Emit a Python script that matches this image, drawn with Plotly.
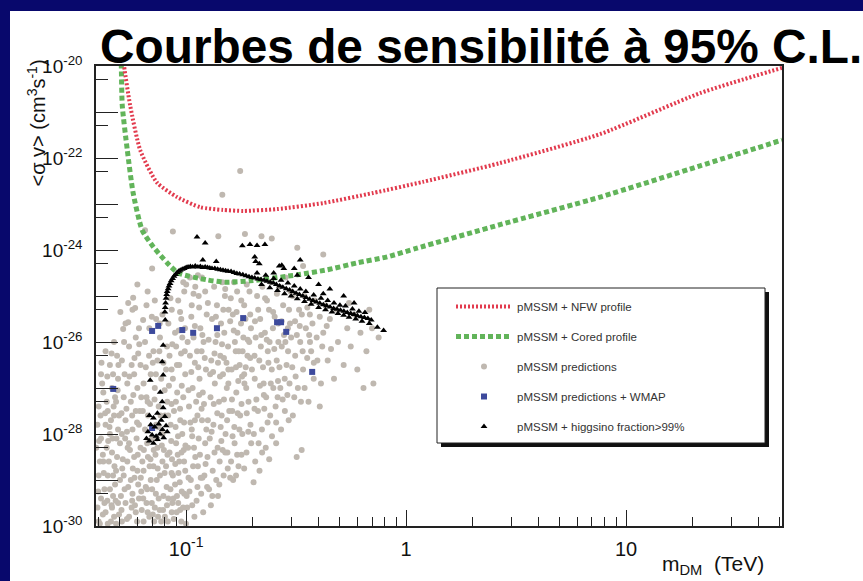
import plotly.graph_objects as go

# ---------------- sensitivity curves (mass in TeV, log10 <sigma v> in cm^3 s^-1)
nfw_mass = [0.0512, 0.0522, 0.0556, 0.0618, 0.0738, 0.0910, 0.116, 0.147, 0.182,
            0.259, 0.420, 0.708, 1.19, 2.67, 7.62, 21.7, 51.2]
nfw_logsv = [-19.6, -20.0, -20.85, -21.83, -22.54, -22.85, -23.07, -23.13, -23.15,
             -23.11, -22.98, -22.76, -22.52, -22.11, -21.48, -20.59, -20.04]

cored_mass = [0.0503, 0.0507, 0.0512, 0.0540, 0.0574, 0.0631, 0.0708, 0.082, 0.092,
              0.1245, 0.150, 0.195, 0.320, 0.438, 0.599, 0.82, 1.12, 2.67, 7.62, 21.7, 51.2]
cored_logsv = [-19.6, -20.0, -20.85, -21.83, -22.76, -23.57, -23.93, -24.28, -24.50,
               -24.65, -24.70, -24.67, -24.54, -24.43, -24.28, -24.15, -23.96, -23.45,
               -22.85, -22.17, -21.61]

# ---------------- pMSSM scan points, grouped by mass band: (mass TeV, log10 <sigma v>)
pred_band1 = [(0.040, -29.9), (0.041, -29.4), (0.043, -29.7), (0.045, -29.2), (0.047, -29.8), (0.049, -29.5),
              (0.040, -28.9), (0.042, -28.6), (0.044, -28.9), (0.046, -28.4), (0.048, -28.8), (0.050, -28.2),
              (0.041, -28.1), (0.043, -27.8), (0.045, -28.0), (0.047, -27.6), (0.049, -27.9), (0.040, -27.4),
              (0.042, -27.1), (0.044, -27.5), (0.046, -27.0), (0.048, -27.3), (0.041, -26.7), (0.045, -26.5),
              (0.049, -26.8), (0.043, -26.2), (0.047, -26.0), (0.044, -29.95), (0.048, -29.95), (0.050, -29.0),
              (0.046, -29.6), (0.039, -28.3), (0.0395, -29.6), (0.0425, -29.2), (0.0435, -28.3), (0.0455, -29.9),
              (0.0475, -29.1), (0.0495, -29.75), (0.0405, -28.6), (0.0445, -28.6), (0.0465, -28.9), (0.0485, -28.5),
              (0.0395, -27.8), (0.0435, -27.3), (0.0455, -27.7), (0.0475, -27.2), (0.0495, -27.6), (0.0415, -26.9),
              (0.0465, -26.7), (0.0485, -26.3)]
pred_band2 = [(0.051, -29.9), (0.053, -29.5), (0.055, -29.8), (0.057, -29.3), (0.059, -29.7), (0.061, -29.4),
              (0.052, -28.9), (0.054, -28.6), (0.056, -29.0), (0.058, -28.5), (0.060, -28.8), (0.062, -28.3),
              (0.051, -28.0), (0.053, -27.7), (0.055, -28.2), (0.057, -27.9), (0.059, -27.5), (0.061, -27.8),
              (0.052, -27.2), (0.054, -26.9), (0.056, -27.3), (0.058, -26.7), (0.060, -27.0), (0.062, -26.5),
              (0.051, -26.4), (0.055, -26.1), (0.059, -25.9), (0.053, -25.6), (0.057, -25.3), (0.061, -25.7),
              (0.0574, -25.04), (0.0586, -25.26), (0.0545, -25.57), (0.0517, -25.72), (0.0637, -25.52),
              (0.060, -24.75), (0.0525, -29.2), (0.0565, -29.6), (0.0605, -29.1), (0.0515, -28.55),
              (0.0555, -28.35), (0.0595, -28.1), (0.0535, -27.45), (0.0575, -27.15), (0.0615, -27.5),
              (0.0525, -26.7), (0.0565, -26.5), (0.0605, -26.25)]
pred_band3 = [(0.064, -29.9), (0.066, -29.5), (0.068, -29.8), (0.070, -29.2), (0.072, -29.6), (0.075, -29.4),
              (0.077, -29.9), (0.064, -28.8), (0.067, -28.5), (0.069, -29.0), (0.071, -28.7), (0.074, -28.3),
              (0.076, -28.9), (0.078, -28.6), (0.065, -27.9), (0.067, -27.6), (0.070, -28.1), (0.073, -27.8),
              (0.075, -27.4), (0.078, -28.0), (0.064, -26.9), (0.066, -27.2), (0.069, -26.7), (0.072, -27.0),
              (0.074, -26.4), (0.077, -26.8), (0.065, -26.0), (0.068, -25.7), (0.071, -26.2), (0.073, -25.5),
              (0.076, -25.9), (0.066, -25.2), (0.070, -24.4), (0.065, -23.57), (0.072, -25.1), (0.078, -25.4),
              (0.0655, -29.15), (0.0715, -29.9), (0.0735, -29.0), (0.0665, -28.2), (0.0725, -28.45),
              (0.0775, -28.25), (0.0635, -27.5), (0.0685, -27.35), (0.0765, -27.6), (0.0655, -26.55),
              (0.0705, -26.45), (0.0755, -26.2)]
pred_band4 = [(0.080, -29.8), (0.083, -29.4), (0.086, -29.7), (0.089, -29.1), (0.092, -29.5), (0.095, -29.9),
              (0.098, -29.3), (0.081, -28.7), (0.084, -28.4), (0.087, -28.9), (0.090, -28.2), (0.093, -28.6),
              (0.096, -28.0), (0.099, -28.8), (0.080, -27.6), (0.082, -27.3), (0.085, -27.8), (0.088, -27.5),
              (0.091, -27.1), (0.094, -27.7), (0.097, -27.2), (0.081, -26.6), (0.084, -26.3), (0.087, -26.8),
              (0.090, -26.1), (0.093, -26.5), (0.096, -25.9), (0.099, -26.7), (0.083, -25.6), (0.086, -25.3),
              (0.089, -25.8), (0.092, -25.1), (0.095, -25.5), (0.098, -24.9), (0.087, -23.6), (0.097, -24.7),
              (0.0815, -29.15), (0.0875, -29.4), (0.0935, -29.05), (0.0855, -28.15), (0.0915, -28.45),
              (0.0975, -28.35), (0.0835, -26.95), (0.0895, -27.85), (0.0955, -26.95), (0.0865, -26.05),
              (0.0925, -25.75), (0.0985, -26.2)]
pred_band5 = [(0.101, -29.6), (0.105, -29.0), (0.109, -29.8), (0.113, -28.7), (0.117, -29.3), (0.121, -28.9),
              (0.125, -28.5), (0.102, -28.3), (0.106, -27.9), (0.110, -28.5), (0.114, -28.1), (0.118, -27.7),
              (0.122, -28.2), (0.103, -27.4), (0.107, -27.0), (0.111, -27.3), (0.115, -26.8), (0.119, -27.1),
              (0.123, -26.6), (0.104, -26.3), (0.108, -25.9), (0.112, -26.2), (0.116, -25.7), (0.120, -26.0),
              (0.124, -25.4), (0.106, -25.2), (0.110, -24.8), (0.114, -25.0), (0.118, -24.6), (0.122, -24.9),
              (0.100, -24.75), (0.104, -24.6), (0.108, -24.95), (0.113, -24.55), (0.1035, -29.25),
              (0.1115, -29.45), (0.1195, -29.7), (0.1075, -28.7), (0.1155, -28.45), (0.1235, -27.9),
              (0.1045, -27.75), (0.1125, -27.6), (0.1205, -27.35), (0.1055, -26.65), (0.1135, -26.55),
              (0.1215, -26.35)]
pred_band6 = [(0.127, -29.2), (0.132, -28.8), (0.137, -29.0), (0.142, -28.6), (0.148, -28.9), (0.154, -28.4),
              (0.128, -28.1), (0.133, -27.8), (0.139, -28.3), (0.145, -27.6), (0.151, -28.0), (0.157, -27.5),
              (0.129, -27.2), (0.135, -26.9), (0.141, -27.3), (0.147, -26.7), (0.153, -27.0), (0.130, -26.4),
              (0.136, -26.0), (0.143, -26.3), (0.149, -25.8), (0.155, -26.1), (0.131, -25.5), (0.138, -25.2),
              (0.144, -25.6), (0.150, -25.0), (0.156, -25.3), (0.134, -24.8), (0.146, -24.7), (0.146, -22.8),
              (0.140, -23.7), (0.1295, -29.55), (0.1395, -29.35), (0.1345, -28.4), (0.1445, -28.15),
              (0.1545, -28.75), (0.1385, -27.55), (0.1485, -27.25), (0.1325, -26.65), (0.1425, -26.75),
              (0.1525, -26.45)]
pred_band7 = [(0.160, -28.6), (0.166, -28.2), (0.173, -28.7), (0.180, -28.0), (0.188, -28.4), (0.196, -27.8),
              (0.162, -27.5), (0.169, -27.1), (0.176, -27.6), (0.184, -26.9), (0.192, -27.3), (0.199, -26.6),
              (0.161, -26.6), (0.168, -26.2), (0.175, -26.5), (0.182, -25.9), (0.190, -26.3), (0.197, -25.7),
              (0.163, -25.4), (0.171, -25.8), (0.178, -25.1), (0.186, -25.5), (0.194, -24.9), (0.165, -24.7),
              (0.176, -22.28), (0.185, -23.65), (0.1635, -29.0), (0.1705, -28.45), (0.1835, -28.75),
              (0.1655, -27.85), (0.1785, -27.35), (0.1915, -27.95), (0.1725, -26.85), (0.1865, -26.55),
              (0.1665, -26.0), (0.1805, -26.2)]
pred_band8 = [(0.203, -28.0), (0.212, -27.5), (0.221, -27.9), (0.231, -27.2), (0.241, -27.6), (0.249, -27.0),
              (0.205, -26.8), (0.215, -26.4), (0.225, -26.9), (0.235, -26.2), (0.245, -26.6), (0.207, -25.9),
              (0.217, -25.5), (0.228, -25.8), (0.238, -25.3), (0.248, -25.7), (0.210, -25.0), (0.222, -24.8),
              (0.233, -25.1), (0.243, -24.7), (0.206, -28.6), (0.230, -28.3), (0.220, -23.7), (0.245, -23.75),
              (0.2085, -27.25), (0.2265, -27.45), (0.2185, -26.1), (0.2395, -26.0), (0.2135, -28.2)]
pred_band9 = [(0.255, -27.4), (0.268, -27.0), (0.281, -27.5), (0.295, -26.9), (0.310, -27.2), (0.258, -26.4),
              (0.272, -26.1), (0.286, -26.5), (0.300, -25.9), (0.313, -26.3), (0.262, -25.6), (0.276, -25.2),
              (0.290, -25.7), (0.305, -25.0), (0.265, -24.8), (0.283, -24.6), (0.298, -24.9), (0.270, -27.9),
              (0.2615, -26.85), (0.2905, -26.2), (0.2785, -25.85)]
pred_band10 = [(0.322, -27.0), (0.340, -26.6), (0.360, -27.3), (0.380, -26.8), (0.330, -26.0), (0.350, -25.7),
               (0.370, -26.2), (0.392, -25.9), (0.326, -25.3), (0.345, -25.0), (0.365, -25.4), (0.385, -25.1),
               (0.335, -28.35), (0.318, -28.5), (0.320, -23.95), (0.340, -24.35), (0.355, -26.35)]
pred_band11 = [(0.41, -26.9), (0.44, -26.4), (0.47, -26.8), (0.42, -25.8), (0.45, -25.5), (0.49, -26.0),
               (0.43, -25.2), (0.48, -25.3), (0.42, -24.1), (0.405, -27.4)]
pred_band12 = [(0.52, -26.5), (0.56, -26.1), (0.60, -26.6), (0.54, -25.7), (0.58, -25.4), (0.62, -25.8),
               (0.55, -25.15)]
pred_band13 = [(0.66, -26.2), (0.70, -25.7), (0.75, -25.9), (0.68, -25.3), (0.64, -27.0), (0.71, -26.9)]

# further scan points filling the densely populated low-mass region
pred_fill_a = [(0.0398, -29.25), (0.0418, -29.75), (0.0438, -29.45), (0.0458, -29.55), (0.0478, -29.45),
               (0.0508, -29.65), (0.0538, -29.85), (0.0568, -29.45), (0.0598, -29.9), (0.0628, -29.65),
               (0.0402, -28.15), (0.0422, -28.85), (0.0442, -28.15), (0.0462, -28.1), (0.0482, -28.1),
               (0.0512, -28.75), (0.0542, -28.3), (0.0572, -28.75), (0.0602, -28.45), (0.0622, -28.95),
               (0.0408, -27.6), (0.0428, -27.55), (0.0448, -27.85), (0.0468, -27.4), (0.0488, -27.05),
               (0.0508, -27.55), (0.0538, -27.95), (0.0568, -27.6), (0.0598, -27.75), (0.0625, -27.2),
               (0.0412, -26.45), (0.0438, -26.75), (0.0458, -26.25), (0.0492, -26.5), (0.0522, -26.0),
               (0.0552, -26.75), (0.0582, -26.35), (0.0612, -26.05), (0.0502, -25.35), (0.0545, -25.15)]
pred_fill_b = [(0.0638, -29.4), (0.0668, -29.7), (0.0698, -29.5), (0.0728, -29.3), (0.0758, -29.65),
               (0.0788, -29.35), (0.0818, -29.55), (0.0848, -29.2), (0.0878, -29.85), (0.0908, -29.35),
               (0.0938, -29.65), (0.0968, -29.6), (0.0998, -29.95), (0.0642, -28.35), (0.0682, -28.7),
               (0.0712, -28.35), (0.0742, -28.75), (0.0792, -28.35), (0.0822, -28.45), (0.0862, -28.55),
               (0.0892, -28.65), (0.0922, -28.85), (0.0952, -28.4), (0.0992, -28.25), (0.0668, -27.3),
               (0.0718, -27.25), (0.0748, -27.85), (0.0798, -27.05), (0.0828, -27.6), (0.0858, -27.35),
               (0.0898, -27.3), (0.0938, -27.45), (0.0978, -27.75), (0.0678, -26.3), (0.0728, -26.7),
               (0.0788, -26.45), (0.0818, -26.1), (0.0858, -26.6), (0.0908, -26.5), (0.0948, -26.25),
               (0.0988, -25.7), (0.0698, -25.45), (0.0758, -25.6), (0.0848, -25.05), (0.0938, -25.35),
               (0.0668, -24.9)]
pred_fill_c = [(0.1025, -28.95), (0.1085, -28.3), (0.1165, -28.95), (0.1245, -29.15), (0.1315, -29.35),
               (0.1415, -29.1), (0.1505, -28.4), (0.1585, -28.95), (0.1685, -28.9), (0.1785, -28.45),
               (0.1025, -27.05), (0.1095, -27.7), (0.1175, -27.45), (0.1255, -27.7), (0.1335, -27.35),
               (0.1435, -27.85), (0.1535, -27.7), (0.1615, -27.25), (0.1745, -27.9), (0.1885, -27.55),
               (0.1975, -28.2), (0.1015, -26.0), (0.1095, -26.45), (0.1175, -26.2), (0.1265, -25.95),
               (0.1345, -26.25), (0.1455, -26.05), (0.1555, -26.6), (0.1645, -25.75), (0.1735, -26.2),
               (0.1835, -26.7), (0.1935, -26.0), (0.1055, -25.45), (0.1145, -25.25), (0.1255, -25.15),
               (0.1365, -25.45), (0.1475, -25.3), (0.1595, -25.05), (0.1695, -25.35), (0.1835, -25.2),
               (0.1955, -25.4), (0.1505, -24.85), (0.1705, -24.9), (0.1885, -24.75)]
pred_fill_d = [(0.2045, -27.45), (0.2165, -26.95), (0.2345, -27.75), (0.2455, -28.05), (0.2565, -27.75),
               (0.2745, -27.25), (0.2885, -27.15), (0.3055, -27.6), (0.3325, -27.3), (0.2045, -26.3),
               (0.2235, -26.55), (0.2325, -25.95), (0.2515, -26.15), (0.2655, -26.55), (0.2825, -26.0),
               (0.3035, -26.55), (0.3185, -25.85), (0.3385, -26.2), (0.3655, -26.0), (0.395, -26.4),
               (0.2125, -25.3), (0.2285, -25.05), (0.2485, -25.35), (0.2585, -24.95), (0.2715, -25.55),
               (0.2935, -25.3), (0.3125, -25.55), (0.3355, -25.4), (0.3555, -25.25), (0.375, -25.6),
               (0.405, -25.45)]
pred_fill_e = [(0.1065, -28.05), (0.1145, -27.15), (0.1225, -28.65), (0.1305, -27.95), (0.1395, -26.45),
               (0.1465, -28.35), (0.1555, -26.9), (0.1625, -28.05), (0.1715, -27.55), (0.1795, -26.75),
               (0.1875, -27.0), (0.1955, -26.35), (0.1095, -25.65), (0.1185, -25.85), (0.1285, -26.7),
               (0.1385, -25.85), (0.1485, -26.35), (0.1585, -25.55), (0.1685, -26.55), (0.1775, -25.6),
               (0.1905, -25.95), (0.2055, -25.55), (0.2195, -25.85), (0.2365, -26.45), (0.2525, -25.45),
               (0.2625, -26.0), (0.2805, -26.8), (0.2965, -25.6), (0.3145, -26.75), (0.3285, -25.65),
               (0.3455, -27.0), (0.3625, -25.85), (0.3805, -26.45), (0.4155, -26.1), (0.4355, -25.65),
               (0.4555, -26.15), (0.2255, -27.15), (0.2425, -26.9), (0.2605, -27.2), (0.2925, -27.7),
               (0.2215, -28.4), (0.2385, -28.55), (0.2565, -28.2), (0.2155, -28.8), (0.2025, -29.05)]
pred_fill_f = [(0.0405, -29.95), (0.0425, -29.5), (0.0465, -29.35), (0.0505, -29.35), (0.0545, -29.15),
               (0.0585, -29.55), (0.0625, -29.25), (0.0665, -29.2), (0.0705, -29.75), (0.0745, -29.8),
               (0.0785, -29.65), (0.0825, -29.9), (0.0865, -29.5), (0.0905, -29.7), (0.0955, -29.25),
               (0.1005, -29.35), (0.1065, -29.55), (0.1125, -29.15), (0.1185, -28.95), (0.0418, -28.45),
               (0.0472, -28.7), (0.0528, -28.1), (0.0582, -28.95), (0.0632, -28.6), (0.0688, -28.55),
               (0.0735, -28.1), (0.0798, -28.85), (0.0858, -28.85), (0.0918, -28.05), (0.0978, -28.6)]

# points passing the WMAP relic-density constraint
wmap_points = [(0.070, -25.76), (0.0746, -25.65), (0.096, -25.74), (0.1076, -25.80), (0.138, -25.70),
               (0.1816, -25.48), (0.259, -25.57), (0.270, -25.57), (0.285, -25.78), (0.374, -26.65),
               (0.0466, -27.02), (0.070, -27.87)]

# nearly pure higgsino models
higgsino_cluster = [(0.068, -27.6), (0.071, -27.65), (0.074, -27.55), (0.077, -27.7), (0.080, -27.62),
                    (0.069, -27.8), (0.072, -27.85), (0.075, -27.78), (0.078, -27.9), (0.081, -27.82),
                    (0.067, -27.95), (0.070, -28.02), (0.073, -28.05), (0.076, -28.0), (0.079, -28.08),
                    (0.068, -28.15), (0.071, -28.2), (0.074, -28.12), (0.082, -27.95), (0.066, -28.1)]
higgsino_column = [(0.0803, -25.52), (0.0786, -26.07), (0.0778, -26.43), (0.0786, -26.72), (0.0686, -26.83),
                   (0.0762, -27.09), (0.0778, -27.3), (0.0786, -27.43)]
higgsino_band = [(0.0800, -25.35), (0.0803, -25.25), (0.0806, -25.15), (0.0810, -25.05), (0.0815, -24.97),
                 (0.0820, -24.9), (0.0828, -24.84), (0.0835, -24.78), (0.0845, -24.73), (0.0855, -24.67),
                 (0.0868, -24.62), (0.0880, -24.57), (0.0895, -24.53), (0.0910, -24.49), (0.0925, -24.46),
                 (0.0940, -24.44), (0.0960, -24.42), (0.0980, -24.40), (0.1000, -24.38), (0.1020, -24.37),
                 (0.1045, -24.36), (0.107, -24.37), (0.110, -24.35), (0.113, -24.37), (0.116, -24.36),
                 (0.119, -24.38), (0.122, -24.37), (0.125, -24.38), (0.128, -24.39), (0.131, -24.40),
                 (0.135, -24.40), (0.139, -24.42), (0.143, -24.43), (0.147, -24.44), (0.151, -24.45),
                 (0.155, -24.46), (0.160, -24.47), (0.165, -24.49), (0.170, -24.51), (0.175, -24.52),
                 (0.181, -24.54), (0.187, -24.56), (0.193, -24.58), (0.199, -24.60), (0.205, -24.61),
                 (0.212, -24.63), (0.219, -24.64), (0.226, -24.66), (0.233, -24.68), (0.241, -24.70),
                 (0.249, -24.72), (0.257, -24.75), (0.266, -24.78), (0.275, -24.81), (0.285, -24.84),
                 (0.295, -24.87), (0.305, -24.90), (0.316, -24.94), (0.327, -24.97), (0.339, -25.00),
                 (0.351, -25.03), (0.364, -25.07), (0.377, -25.10), (0.391, -25.13), (0.405, -25.16),
                 (0.420, -25.19), (0.435, -25.21), (0.451, -25.24), (0.468, -25.27), (0.485, -25.29),
                 (0.503, -25.31), (0.521, -25.33), (0.540, -25.36), (0.560, -25.38), (0.580, -25.40),
                 (0.601, -25.43), (0.623, -25.45), (0.646, -25.47), (0.670, -25.49), (0.694, -25.52)]
higgsino_upper = [(0.21, -24.5), (0.23, -24.55), (0.25, -24.62), (0.27, -24.66), (0.29, -24.72), (0.31, -24.78),
                  (0.33, -24.85), (0.35, -24.9), (0.38, -24.98), (0.41, -25.05), (0.44, -25.1), (0.47, -25.15),
                  (0.50, -25.2), (0.53, -25.22), (0.57, -25.28), (0.61, -25.33), (0.65, -25.36)]
higgsino_lower = [(0.22, -24.75), (0.24, -24.82), (0.26, -24.88), (0.28, -24.95), (0.30, -25.0), (0.32, -25.06),
                  (0.345, -25.12), (0.37, -25.18), (0.40, -25.25), (0.43, -25.3), (0.46, -25.35), (0.49, -25.38),
                  (0.52, -25.42), (0.55, -25.46), (0.59, -25.5), (0.63, -25.55), (0.68, -25.6)]
higgsino_scatter = [(0.112, -23.72), (0.122, -23.85), (0.119, -24.22), (0.137, -24.25), (0.180, -23.91),
                    (0.195, -23.88), (0.210, -23.90), (0.228, -23.88), (0.205, -24.15), (0.207, -24.25),
                    (0.215, -24.30), (0.272, -24.33), (0.278, -24.40), (0.33, -24.22), (0.31, -24.40),
                    (0.32, -24.55), (0.25, -24.5), (0.265, -24.35), (0.36, -24.6), (0.40, -24.75),
                    (0.45, -24.85), (0.52, -25.0), (0.58, -25.15), (0.42, -24.95), (0.74, -25.68),
                    (0.79, -25.75)]

# axis ticks
x_major = [0.1, 1, 10]
x_major_text = ["10<sup>-1</sup>", "1", "10"]
x_minor = [0.04, 0.05, 0.06, 0.07, 0.08, 0.09, 0.2, 0.3, 0.4, 0.5, 0.6, 0.7, 0.8, 0.9,
           2, 3, 4, 5, 6, 7, 8, 9, 20, 30, 40, 50]
y_labelled_exponents = [-20, -22, -24, -26, -28, -30]
y_plain_exponents = [-21, -23, -25, -27, -29]
y_half_exponents = [-21, -22, -23, -24, -25, -26, -27, -28, -29, -30]


def unpack(*groups):
    ms, ss = [], []
    for g in groups:
        for m, s in g:
            ms.append(m)
            ss.append(10 ** s)
    return ms, ss


pred_m, pred_sv = unpack(pred_band1, pred_band2, pred_band3, pred_band4, pred_band5, pred_band6,
                         pred_band7, pred_band8, pred_band9, pred_band10, pred_band11, pred_band12,
                         pred_band13, pred_fill_a, pred_fill_b, pred_fill_c, pred_fill_d,
                         pred_fill_e, pred_fill_f)
wmap_m, wmap_sv = unpack(wmap_points)
hig_m, hig_sv = unpack(higgsino_cluster, higgsino_column, higgsino_band, higgsino_upper,
                       higgsino_lower, higgsino_scatter)

FONT = "Liberation Sans, Arial, Helvetica, sans-serif"
NAVY = "#08086c"
AXIS = "#222222"

fig = go.Figure()

fig.add_trace(go.Scatter(x=pred_m, y=pred_sv, mode="markers", name="pMSSM predictions",
                         marker=dict(color="#bfb8b0", size=6, line=dict(width=0)),
                         legendgroup="c", legendrank=3))
fig.add_trace(go.Scatter(x=wmap_m, y=wmap_sv, mode="markers", name="pMSSM predictions + WMAP",
                         marker=dict(color="#3d4a9c", size=6, symbol="square", line=dict(width=0)),
                         legendgroup="d", legendrank=4))
fig.add_trace(go.Scatter(x=cored_mass, y=[10 ** v for v in cored_logsv], mode="lines",
                         name="pMSSM + Cored profile", line=dict(color="#62b45a", width=5, dash="5px,3px",
                                                                  shape="spline", smoothing=0.6),
                         legendgroup="b", legendrank=2))
fig.add_trace(go.Scatter(x=nfw_mass, y=[10 ** v for v in nfw_logsv], mode="lines",
                         name="pMSSM + NFW profile", line=dict(color="#e23b4e", width=4, dash="2px,2px",
                                                                shape="spline", smoothing=0.6),
                         legendgroup="a", legendrank=1))
# drawn against the overlay axis that carries the 5x10^n ticks (same scale as y)
fig.add_trace(go.Scatter(x=hig_m, y=hig_sv, mode="markers", name="pMSSM + higgsino fraction>99%",
                         yaxis="y2",
                         marker=dict(color="black", size=6, symbol="triangle-up", line=dict(width=0)),
                         legendgroup="e", legendrank=5))

# plot area geometry in pixels
L, R, T, B = 96, 782, 66, 526
W, H = 863, 581
pw, ph = R - L, B - T


def px(x):
    return (x - L) / pw


def py(y):
    return (B - y) / ph


shapes = [
    # white slide panel over the navy background
    dict(type="rect", xref="paper", yref="paper", x0=px(10), x1=px(870), y0=py(590), y1=py(11),
         fillcolor="white", line=dict(width=0), layer="below"),
    # legend shadow and frame
    dict(type="rect", xref="paper", yref="paper", x0=px(441), x1=px(769), y0=py(447), y1=py(292),
         fillcolor="#111111", line=dict(width=0), layer="below"),
    dict(type="rect", xref="paper", yref="paper", x0=px(437), x1=px(765), y0=py(443), y1=py(288),
         fillcolor="white", line=dict(color=AXIS, width=1), layer="below"),
]

annotations = [
    dict(text="<b>Courbes de sensibilité à 95% C.L.</b>", xref="paper", yref="paper",
         x=px(98), y=py(46), xanchor="left", yanchor="middle", showarrow=False,
         font=dict(family=FONT, size=47.8, color="black")),
    dict(text="&lt;σ v&gt; (cm<sup>3</sup>s<sup>-1</sup>)", xref="paper", yref="paper",
         x=px(36), y=py(58), xanchor="center", yanchor="top", textangle=-90, showarrow=False,
         font=dict(family=FONT, size=20, color="#111111")),
    dict(text="m<sub>DM</sub>&nbsp;&nbsp;(TeV)", xref="paper", yref="paper",
         x=px(766), y=py(565), xanchor="right", yanchor="middle", showarrow=False,
         font=dict(family=FONT, size=21, color="#111111")),
]

fig.update_layout(
    width=W, height=H, autosize=False,
    margin=dict(l=L, r=W - R, t=T, b=H - B, pad=0),
    paper_bgcolor=NAVY, plot_bgcolor="white",
    shapes=shapes, annotations=annotations,
    showlegend=True,
    legend=dict(x=px(451), y=py(292), xanchor="left", yanchor="top",
                bgcolor="rgba(0,0,0,0)", borderwidth=0, traceorder="grouped",
                tracegroupgap=11, itemwidth=56,
                font=dict(family=FONT, size=11.5, color="#333333")),
    font=dict(family=FONT, color="black"),
)

fig.update_xaxes(
    type="log", range=[-1.41, 1.709],
    showline=True, linecolor=AXIS, linewidth=1.5, mirror=True,
    showgrid=False, zeroline=False,
    tickmode="array", tickvals=x_major, ticktext=x_major_text,
    ticks="inside", ticklen=16, tickwidth=1.2, tickcolor=AXIS,
    tickfont=dict(family=FONT, size=20, color="#111111"),
    ticklabelstandoff=4,
    minor=dict(ticks="inside", tickvals=x_minor, ticklen=9, tickwidth=1.2, tickcolor=AXIS,
               showgrid=False),
)
fig.update_layout(
    yaxis=dict(
        type="log", range=[-30, -20],
        showline=True, linecolor=AXIS, linewidth=1.5, mirror=True,
        showgrid=False, zeroline=False,
        tickmode="array", tickvals=[10.0 ** e for e in y_labelled_exponents],
        ticktext=[f"10<sup>{e}</sup>" for e in y_labelled_exponents],
        ticks="inside", ticklen=22, tickwidth=1.2, tickcolor=AXIS,
        tickfont=dict(family=FONT, size=19, color="#111111"),
        ticklabelstandoff=8,
        minor=dict(ticks="inside", tickvals=[10.0 ** e for e in y_plain_exponents], ticklen=22,
                   tickwidth=1.2, tickcolor=AXIS, showgrid=False),
    ),
    yaxis2=dict(
        type="log", range=[-30, -20], overlaying="y", side="left", anchor="x",
        showline=False, showgrid=False, zeroline=False, showticklabels=False,
        tickmode="array", tickvals=[5 * 10.0 ** e for e in y_half_exponents],
        ticks="inside", ticklen=12, tickwidth=1.2, tickcolor=AXIS,
    ),
)

fig.write_html("out.html")
